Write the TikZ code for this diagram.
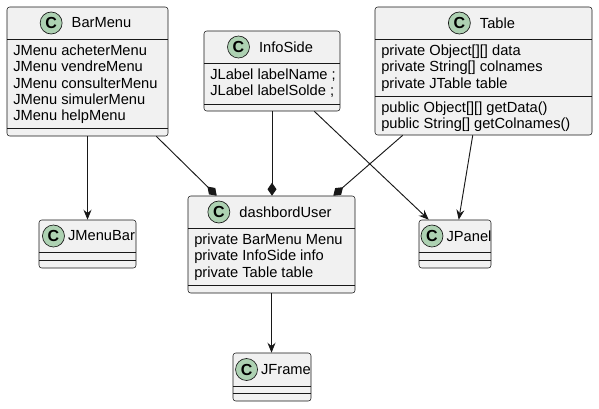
\documentclass[tikz,border=0pt]{standalone}
\usepackage{fontspec}
\setmainfont{Liberation Sans}
\usetikzlibrary{positioning,calc,arrows.meta}
\definecolor{umlfill}{HTML}{F1F1F1}
\definecolor{umlline}{HTML}{181818}
\definecolor{umlspot}{HTML}{ADD1B2}

\tikzset{
  classbox/.style={draw=umlline, fill=umlfill, line width=0.4pt, rounded corners=2pt, inner sep=0pt},
  sepline/.style={draw=umlline, line width=0.4pt},
  classname/.style={inner sep=0pt, font=\fontsize{11}{13}\selectfont},
  member/.style={anchor=base west, inner sep=0pt, font=\fontsize{11}{13}\selectfont},
  spot/.style={circle, draw=umlline, fill=umlspot, line width=0.5pt, minimum size=16.5pt, inner sep=0pt, font=\bfseries\fontsize{12}{12}\selectfont},
  assoc/.style={draw=umlline, line width=0.7pt, -{Stealth[length=7.5pt,width=6pt,inset=2.5pt]}},
  compo/.style={draw=umlline, line width=0.7pt, -{Diamond[length=9.75pt,width=6.75pt]}},
}

% id, left, top, right, bottom, first separator, second separator, name, [gap of the spot]
\NewDocumentCommand{\umlclass}{mmmmmmmmO{6.75pt}}{%
\node[classbox, minimum width={(#4-#2)*0.75pt}, minimum height={(#5-#3)*0.75pt}] (#1) at ({(#2+#4)/2},{(#3+#5)/2}) {};%
\draw[sepline] (#2,#6) -- (#4,#6);%
\draw[sepline] (#2,#7) -- (#4,#7);%
\node[classname] (#1-name) at ({(#2+#4)/2+14},{(#3+#6)/2}) {#8};%
\node[spot, left=#9 of #1-name] (#1-spot) {C};%
}
% id, left, separator above, lines
\NewDocumentCommand{\members}{mmmm}{%
\foreach \m [count=\i] in {#4} {\node[member] (#1-\i) at ({#2+6},{#3+16.5+16.3*(\i-1)}) {\m};}%
}

\begin{document}
\begin{tikzpicture}[x=0.75pt, y=-0.75pt]
        \useasboundingbox (0,0) rectangle (599,408);

        \umlclass{barmenu}{7}{7}{168}{136}{39}{128}{BarMenu}
        \members{barmenu-f}{7}{39}{JMenu acheterMenu, JMenu vendreMenu, JMenu consulterMenu, JMenu simulerMenu, JMenu helpMenu}
        \umlclass{infoside}{204}{31}{340}{111}{63}{104}{InfoSide}
        \members{infoside-f}{204}{63}{JLabel labelName ;, JLabel labelSolde ;}
        \umlclass{table}{375}{7}{592}{135}{39}{96}{Table}
        \members{table-f}{375}{39}{private Object[][] data, private String[] colnames, private JTable table}
        \members{table-m}{375}{96}{public Object[][] getData(), public String[] getColnames()}
        \umlclass{user}{188}{196}{355}{293}{228}{285}{dashbordUser}
        \members{user-f}{188}{228}{private BarMenu Menu, private InfoSide info, private Table table}
        \umlclass{menubar}{39}{220}{136}{268}{252}{260}{JMenuBar}[2.25pt]
        \umlclass{jpanel}{419}{220}{491}{268}{252}{260}{JPanel}[2.25pt]
        \umlclass{jframe}{233}{353}{311}{401}{386}{393}{JFrame}[2.25pt]

        % Associations.
        \draw[assoc] (barmenu.south) -- (menubar.north);
        \draw[assoc] ($(infoside.south east)+(-26,0)$) -- ($(jpanel.north west)+(10,0)$);
        \draw[assoc] ($(table.south west)+(98,0)$) -- ($(jpanel.north west)+(40,0)$);
        \draw[assoc] (user.south) -- (user.south |- jframe.north);
        % Compositions.
        \draw[compo] ($(barmenu.south east)+(-12,0)$) -- ($(user.north west)+(29,0)$);
        \draw[compo] (infoside.south) -- (infoside.south |- user.north);
        \draw[compo] ($(table.south west)+(28,0)$) -- ($(user.north east)+(-22,0)$);
    \end{tikzpicture}
\end{document}
